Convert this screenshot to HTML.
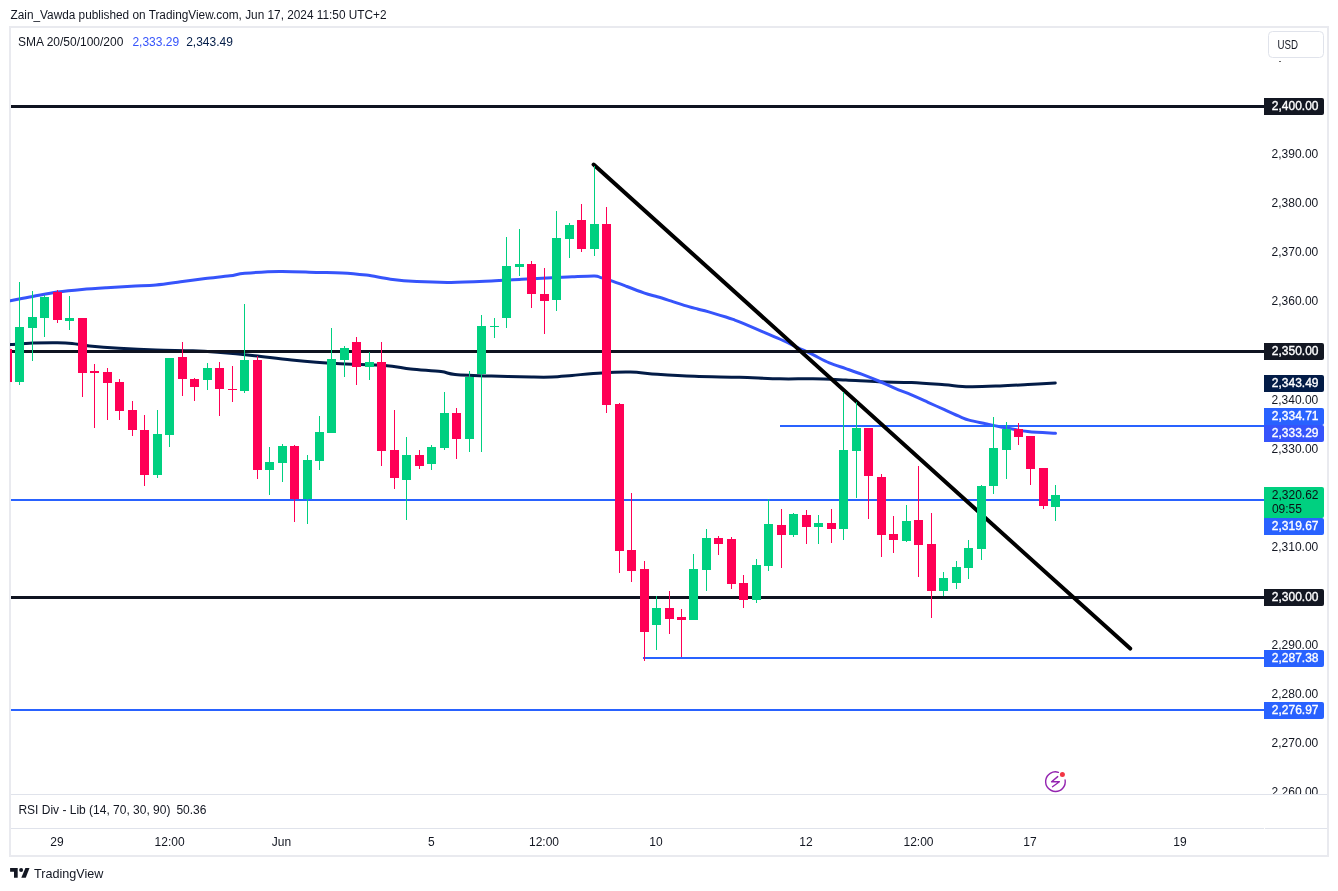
<!DOCTYPE html>
<html><head><meta charset="utf-8"><title>XAUUSD chart</title>
<style>
html,body{margin:0;padding:0;background:#fff;}
body{width:1338px;height:891px;overflow:hidden;position:relative;}
svg{position:absolute;left:0;top:0;display:block;will-change:transform;}
text{font-family:"Liberation Sans",Arial,sans-serif;font-size:12px;fill:#131722;}
.lbl{fill:#fff;}
</style></head><body>
<svg width="1338" height="891" viewBox="0 0 1338 891">
<defs>
<clipPath id="main"><rect x="10" y="28" width="1254" height="766"/></clipPath>
<clipPath id="axis"><rect x="1264" y="28" width="63" height="766"/></clipPath>
</defs>
<rect x="0" y="0" width="1338" height="891" fill="#fff"/>
<text x="10.5" y="19" textLength="376" lengthAdjust="spacingAndGlyphs">Zain_Vawda published on TradingView.com, Jun 17, 2024 11:50 UTC+2</text>
<rect x="10" y="27" width="1318" height="829" fill="none" stroke="#e9eaef" stroke-width="2"/>
<rect x="11" y="794" width="1316" height="1" fill="#e0e3eb"/>
<rect x="11" y="828" width="1253" height="1" fill="#e0e3eb"/>
<rect x="1265" y="828" width="62" height="1" fill="#e0e3eb"/>
<g clip-path="url(#main)">
<path d="M4.0,345.0 C5.1,344.9 5.7,344.9 10.5,344.6 C15.3,344.3 24.9,343.4 32.7,343.1 C40.5,342.8 50.7,342.6 57.3,342.7 C63.9,342.8 66.8,342.9 72.1,343.4 C77.4,343.9 81.6,345.1 89.4,345.9 C97.2,346.7 107.9,347.6 119.0,348.3 C130.1,349.0 143.7,349.7 156.0,350.1 C168.3,350.5 182.7,350.4 193.0,350.8 C203.3,351.2 207.3,351.5 217.6,352.3 C227.9,353.1 242.3,354.4 254.6,355.7 C266.9,357.0 278.0,358.6 291.6,359.9 C305.2,361.2 320.6,362.6 336.1,363.5 C351.6,364.4 372.1,364.6 384.5,365.5 C396.9,366.4 401.3,368.0 410.7,369.0 C420.1,370.0 433.6,370.7 441.0,371.6 C448.4,372.5 446.7,373.7 455.1,374.4 C463.5,375.1 478.6,375.6 491.4,376.0 C504.2,376.4 521.7,376.8 531.8,377.0 C541.9,377.2 545.3,377.3 552.0,377.0 C558.7,376.7 563.8,376.1 572.1,375.4 C580.4,374.7 592.3,373.4 602.0,372.9 C611.7,372.3 621.2,371.9 630.4,372.1 C639.6,372.3 646.6,373.6 657.3,374.3 C668.0,375.0 680.9,375.8 694.6,376.3 C708.3,376.8 725.3,376.9 739.5,377.3 C753.7,377.7 767.8,378.6 780.0,378.8 C792.2,379.1 801.9,378.6 812.9,378.8 C823.9,379.0 834.8,379.6 845.8,380.1 C856.8,380.6 867.8,381.4 878.7,381.8 C889.7,382.2 900.5,382.1 911.5,382.6 C922.5,383.1 934.8,384.1 944.4,384.8 C954.0,385.5 959.8,386.5 969.1,386.7 C978.4,386.9 990.2,386.3 1000.0,385.9 C1009.8,385.5 1018.6,385.0 1027.8,384.5 C1037.0,384.0 1050.7,383.2 1055.3,383.0" fill="none" stroke="#031c47" stroke-width="3" stroke-linejoin="round" stroke-linecap="round"/>
<path d="M4.0,302.0 C5.1,301.8 5.7,301.6 10.5,300.7 C15.3,299.8 24.9,297.9 32.7,296.5 C40.5,295.1 49.1,293.3 57.3,292.1 C65.5,290.9 73.8,290.1 82.0,289.4 C90.2,288.7 98.5,288.2 106.7,287.7 C114.9,287.2 123.1,286.7 131.3,286.2 C139.5,285.7 147.8,285.6 156.0,284.9 C164.2,284.1 172.4,282.8 180.6,281.7 C188.8,280.6 197.1,279.5 205.3,278.5 C213.5,277.5 223.4,276.7 230.0,275.8 C236.6,274.9 236.6,274.0 244.8,273.3 C253.0,272.6 267.4,271.5 279.3,271.4 C291.2,271.2 305.8,272.1 316.3,272.4 C326.8,272.6 333.8,272.4 342.1,272.9 C350.4,273.3 358.2,274.1 366.3,275.1 C374.4,276.2 382.1,278.1 390.5,279.2 C398.9,280.3 406.7,281.1 416.8,281.6 C426.9,282.1 438.7,282.5 451.1,282.4 C463.5,282.3 479.6,281.5 491.4,281.0 C503.2,280.5 511.6,279.7 521.7,279.2 C531.8,278.7 543.6,278.2 552.0,277.8 C560.4,277.4 565.0,277.0 572.1,276.7 C579.2,276.4 589.7,275.8 594.5,275.9 C599.3,276.0 597.8,276.7 600.8,277.6 C603.8,278.5 608.2,279.7 612.4,281.1 C616.6,282.5 620.7,284.2 625.9,286.1 C631.1,288.1 638.6,291.0 643.8,292.8 C649.0,294.6 652.8,295.5 657.3,296.8 C661.8,298.1 666.2,299.5 670.7,300.9 C675.2,302.3 679.7,304.0 684.2,305.4 C688.7,306.8 693.7,308.0 697.6,309.0 C701.5,310.0 703.2,310.3 707.9,311.6 C712.6,312.9 721.4,315.6 725.9,317.0 C730.4,318.4 731.8,319.0 734.8,320.1 C737.8,321.2 739.3,321.8 743.8,323.7 C748.3,325.6 755.7,328.8 761.7,331.3 C767.7,333.9 773.7,336.3 779.7,339.0 C785.7,341.7 792.1,344.9 797.6,347.5 C803.1,350.1 807.6,352.1 812.9,354.7 C818.2,357.3 823.8,360.6 829.3,362.9 C834.8,365.2 840.3,366.7 845.8,368.6 C851.3,370.5 856.7,372.3 862.2,374.4 C867.7,376.5 873.2,378.7 878.7,381.0 C884.2,383.3 889.6,386.1 895.1,388.4 C900.6,390.7 906.0,392.6 911.5,394.9 C917.0,397.2 922.5,399.8 928.0,402.3 C933.5,404.8 938.9,407.2 944.4,409.7 C949.9,412.2 956.8,415.4 960.9,417.1 C965.0,418.8 965.0,419.0 969.1,420.1 C973.2,421.2 980.4,422.6 985.5,423.7 C990.6,424.8 993.0,425.4 1000.0,426.7 C1007.0,428.0 1018.5,430.5 1027.8,431.6 C1037.0,432.7 1050.9,433.0 1055.5,433.3" fill="none" stroke="#3654fb" stroke-width="3" stroke-linejoin="round" stroke-linecap="round"/>
<rect x="11" y="105" width="1253" height="3" fill="#0f1320"/>
<rect x="11" y="350" width="1253" height="3" fill="#0f1320"/>
<rect x="11" y="596" width="1253" height="3" fill="#0f1320"/>
<rect x="780" y="425" width="484" height="2" fill="#2962ff"/>
<rect x="11" y="499" width="1253" height="2" fill="#2962ff"/>
<rect x="643" y="657" width="621" height="2" fill="#2962ff"/>
<rect x="11" y="709" width="1253" height="2" fill="#2962ff"/>
<line x1="593.6" y1="164.5" x2="1130.2" y2="648.6" stroke="#000" stroke-width="4" stroke-linecap="round"/>
<g shape-rendering="crispEdges">
<rect x="7" y="345" width="1" height="40" fill="#ff0055"/><rect x="3" y="349" width="9" height="33" fill="#ff0055"/>
<rect x="19" y="282" width="1" height="103" fill="#00d080"/><rect x="15" y="327" width="9" height="55" fill="#00d080"/>
<rect x="32" y="291" width="1" height="70" fill="#00d080"/><rect x="28" y="317" width="9" height="11" fill="#00d080"/>
<rect x="44" y="295" width="1" height="42" fill="#00d080"/><rect x="40" y="297" width="9" height="21" fill="#00d080"/>
<rect x="57" y="290" width="1" height="33" fill="#ff0055"/><rect x="53" y="292" width="9" height="28" fill="#ff0055"/>
<rect x="69" y="296" width="1" height="34" fill="#00d080"/><rect x="65" y="318" width="9" height="3" fill="#00d080"/>
<rect x="82" y="318" width="1" height="79" fill="#ff0055"/><rect x="78" y="318" width="9" height="55" fill="#ff0055"/>
<rect x="94" y="364" width="1" height="64" fill="#ff0055"/><rect x="90" y="371" width="9" height="2" fill="#ff0055"/>
<rect x="107" y="368" width="1" height="52" fill="#ff0055"/><rect x="103" y="372" width="9" height="11" fill="#ff0055"/>
<rect x="119" y="379" width="1" height="41" fill="#ff0055"/><rect x="115" y="382" width="9" height="29" fill="#ff0055"/>
<rect x="132" y="401" width="1" height="35" fill="#ff0055"/><rect x="128" y="410" width="9" height="20" fill="#ff0055"/>
<rect x="144" y="415" width="1" height="71" fill="#ff0055"/><rect x="140" y="430" width="9" height="45" fill="#ff0055"/>
<rect x="157" y="410" width="1" height="68" fill="#00d080"/><rect x="153" y="434" width="9" height="41" fill="#00d080"/>
<rect x="169" y="358" width="1" height="89" fill="#00d080"/><rect x="165" y="358" width="9" height="77" fill="#00d080"/>
<rect x="182" y="342" width="1" height="54" fill="#ff0055"/><rect x="178" y="357" width="9" height="22" fill="#ff0055"/>
<rect x="194" y="378" width="1" height="23" fill="#ff0055"/><rect x="190" y="379" width="9" height="8" fill="#ff0055"/>
<rect x="207" y="363" width="1" height="27" fill="#00d080"/><rect x="203" y="368" width="9" height="12" fill="#00d080"/>
<rect x="219" y="362" width="1" height="54" fill="#ff0055"/><rect x="215" y="368" width="9" height="21" fill="#ff0055"/>
<rect x="232" y="366" width="1" height="36" fill="#ff0055"/><rect x="228" y="389" width="9" height="1" fill="#ff0055"/>
<rect x="244" y="304" width="1" height="89" fill="#00d080"/><rect x="240" y="360" width="9" height="31" fill="#00d080"/>
<rect x="257" y="356" width="1" height="123" fill="#ff0055"/><rect x="253" y="360" width="9" height="110" fill="#ff0055"/>
<rect x="269" y="447" width="1" height="48" fill="#00d080"/><rect x="265" y="462" width="9" height="8" fill="#00d080"/>
<rect x="282" y="444" width="1" height="38" fill="#00d080"/><rect x="278" y="446" width="9" height="17" fill="#00d080"/>
<rect x="294" y="445" width="1" height="77" fill="#ff0055"/><rect x="290" y="446" width="9" height="53" fill="#ff0055"/>
<rect x="307" y="455" width="1" height="69" fill="#00d080"/><rect x="303" y="460" width="9" height="39" fill="#00d080"/>
<rect x="319" y="416" width="1" height="54" fill="#00d080"/><rect x="315" y="432" width="9" height="29" fill="#00d080"/>
<rect x="331" y="328" width="1" height="105" fill="#00d080"/><rect x="327" y="359" width="9" height="74" fill="#00d080"/>
<rect x="344" y="346" width="1" height="31" fill="#00d080"/><rect x="340" y="348" width="9" height="12" fill="#00d080"/>
<rect x="356" y="337" width="1" height="48" fill="#ff0055"/><rect x="352" y="342" width="9" height="25" fill="#ff0055"/>
<rect x="369" y="352" width="1" height="28" fill="#00d080"/><rect x="365" y="362" width="9" height="5" fill="#00d080"/>
<rect x="381" y="342" width="1" height="124" fill="#ff0055"/><rect x="377" y="362" width="9" height="89" fill="#ff0055"/>
<rect x="394" y="410" width="1" height="79" fill="#ff0055"/><rect x="390" y="450" width="9" height="28" fill="#ff0055"/>
<rect x="406" y="437" width="1" height="83" fill="#00d080"/><rect x="402" y="455" width="9" height="25" fill="#00d080"/>
<rect x="419" y="450" width="1" height="19" fill="#ff0055"/><rect x="415" y="455" width="9" height="11" fill="#ff0055"/>
<rect x="431" y="445" width="1" height="25" fill="#00d080"/><rect x="427" y="447" width="9" height="17" fill="#00d080"/>
<rect x="444" y="392" width="1" height="58" fill="#00d080"/><rect x="440" y="413" width="9" height="35" fill="#00d080"/>
<rect x="456" y="408" width="1" height="51" fill="#ff0055"/><rect x="452" y="413" width="9" height="26" fill="#ff0055"/>
<rect x="469" y="371" width="1" height="81" fill="#00d080"/><rect x="465" y="377" width="9" height="62" fill="#00d080"/>
<rect x="481" y="315" width="1" height="137" fill="#00d080"/><rect x="477" y="326" width="9" height="48" fill="#00d080"/>
<rect x="494" y="318" width="1" height="20" fill="#00d080"/><rect x="490" y="326" width="9" height="1" fill="#00d080"/>
<rect x="506" y="237" width="1" height="91" fill="#00d080"/><rect x="502" y="266" width="9" height="52" fill="#00d080"/>
<rect x="519" y="229" width="1" height="47" fill="#00d080"/><rect x="515" y="264" width="9" height="3" fill="#00d080"/>
<rect x="531" y="261" width="1" height="47" fill="#ff0055"/><rect x="527" y="264" width="9" height="30" fill="#ff0055"/>
<rect x="544" y="268" width="1" height="66" fill="#ff0055"/><rect x="540" y="294" width="9" height="7" fill="#ff0055"/>
<rect x="556" y="211" width="1" height="100" fill="#00d080"/><rect x="552" y="238" width="9" height="62" fill="#00d080"/>
<rect x="569" y="223" width="1" height="35" fill="#00d080"/><rect x="565" y="225" width="9" height="14" fill="#00d080"/>
<rect x="581" y="204" width="1" height="48" fill="#ff0055"/><rect x="577" y="220" width="9" height="29" fill="#ff0055"/>
<rect x="594" y="166" width="1" height="90" fill="#00d080"/><rect x="590" y="224" width="9" height="25" fill="#00d080"/>
<rect x="606" y="207" width="1" height="206" fill="#ff0055"/><rect x="602" y="224" width="9" height="181" fill="#ff0055"/>
<rect x="619" y="403" width="1" height="170" fill="#ff0055"/><rect x="615" y="404" width="9" height="147" fill="#ff0055"/>
<rect x="631" y="493" width="1" height="89" fill="#ff0055"/><rect x="627" y="550" width="9" height="21" fill="#ff0055"/>
<rect x="644" y="561" width="1" height="100" fill="#ff0055"/><rect x="640" y="569" width="9" height="63" fill="#ff0055"/>
<rect x="656" y="596" width="1" height="54" fill="#00d080"/><rect x="652" y="608" width="9" height="17" fill="#00d080"/>
<rect x="669" y="591" width="1" height="43" fill="#ff0055"/><rect x="665" y="608" width="9" height="11" fill="#ff0055"/>
<rect x="681" y="609" width="1" height="48" fill="#ff0055"/><rect x="677" y="617" width="9" height="3" fill="#ff0055"/>
<rect x="693" y="554" width="1" height="66" fill="#00d080"/><rect x="689" y="569" width="9" height="51" fill="#00d080"/>
<rect x="706" y="529" width="1" height="62" fill="#00d080"/><rect x="702" y="538" width="9" height="32" fill="#00d080"/>
<rect x="718" y="536" width="1" height="19" fill="#ff0055"/><rect x="714" y="538" width="9" height="6" fill="#ff0055"/>
<rect x="731" y="537" width="1" height="52" fill="#ff0055"/><rect x="727" y="539" width="9" height="45" fill="#ff0055"/>
<rect x="743" y="575" width="1" height="33" fill="#ff0055"/><rect x="739" y="583" width="9" height="17" fill="#ff0055"/>
<rect x="756" y="559" width="1" height="44" fill="#00d080"/><rect x="752" y="565" width="9" height="35" fill="#00d080"/>
<rect x="768" y="499" width="1" height="72" fill="#00d080"/><rect x="764" y="524" width="9" height="42" fill="#00d080"/>
<rect x="781" y="509" width="1" height="59" fill="#ff0055"/><rect x="777" y="525" width="9" height="10" fill="#ff0055"/>
<rect x="793" y="513" width="1" height="24" fill="#00d080"/><rect x="789" y="514" width="9" height="21" fill="#00d080"/>
<rect x="806" y="510" width="1" height="34" fill="#ff0055"/><rect x="802" y="515" width="9" height="12" fill="#ff0055"/>
<rect x="818" y="515" width="1" height="29" fill="#00d080"/><rect x="814" y="523" width="9" height="4" fill="#00d080"/>
<rect x="831" y="509" width="1" height="34" fill="#ff0055"/><rect x="827" y="523" width="9" height="6" fill="#ff0055"/>
<rect x="843" y="392" width="1" height="148" fill="#00d080"/><rect x="839" y="450" width="9" height="79" fill="#00d080"/>
<rect x="856" y="402" width="1" height="96" fill="#00d080"/><rect x="852" y="428" width="9" height="23" fill="#00d080"/>
<rect x="868" y="428" width="1" height="91" fill="#ff0055"/><rect x="864" y="428" width="9" height="48" fill="#ff0055"/>
<rect x="881" y="474" width="1" height="83" fill="#ff0055"/><rect x="877" y="477" width="9" height="58" fill="#ff0055"/>
<rect x="893" y="516" width="1" height="37" fill="#ff0055"/><rect x="889" y="534" width="9" height="6" fill="#ff0055"/>
<rect x="906" y="505" width="1" height="37" fill="#00d080"/><rect x="902" y="521" width="9" height="20" fill="#00d080"/>
<rect x="918" y="466" width="1" height="111" fill="#ff0055"/><rect x="914" y="520" width="9" height="25" fill="#ff0055"/>
<rect x="931" y="513" width="1" height="105" fill="#ff0055"/><rect x="927" y="544" width="9" height="47" fill="#ff0055"/>
<rect x="943" y="572" width="1" height="24" fill="#00d080"/><rect x="939" y="578" width="9" height="13" fill="#00d080"/>
<rect x="956" y="561" width="1" height="28" fill="#00d080"/><rect x="952" y="567" width="9" height="16" fill="#00d080"/>
<rect x="968" y="540" width="1" height="39" fill="#00d080"/><rect x="964" y="548" width="9" height="20" fill="#00d080"/>
<rect x="981" y="485" width="1" height="75" fill="#00d080"/><rect x="977" y="486" width="9" height="63" fill="#00d080"/>
<rect x="993" y="417" width="1" height="77" fill="#00d080"/><rect x="989" y="448" width="9" height="38" fill="#00d080"/>
<rect x="1006" y="422" width="1" height="57" fill="#00d080"/><rect x="1002" y="429" width="9" height="21" fill="#00d080"/>
<rect x="1018" y="423" width="1" height="22" fill="#ff0055"/><rect x="1014" y="429" width="9" height="8" fill="#ff0055"/>
<rect x="1030" y="436" width="1" height="49" fill="#ff0055"/><rect x="1026" y="436" width="9" height="33" fill="#ff0055"/>
<rect x="1043" y="468" width="1" height="41" fill="#ff0055"/><rect x="1039" y="468" width="9" height="38" fill="#ff0055"/>
<rect x="1055" y="485" width="1" height="36" fill="#00d080"/><rect x="1051" y="495" width="9" height="12" fill="#00d080"/>
</g>
<g fill="none" stroke="#9424b0" stroke-width="1.4" stroke-linecap="round" stroke-linejoin="round">
<path d="M1058.4,772.3 A9.8,9.8 0 1 0 1065.1,780.0"/>
<path d="M1057.7,776.6 L1051.6,781.8 L1059.4,781.8 L1052.5,786.7"/>
</g>
<circle cx="1062.4" cy="774.4" r="2.5" fill="#f23645"/>
</g>
<text x="18" y="46" textLength="105.3" lengthAdjust="spacingAndGlyphs">SMA 20/50/100/200</text>
<text x="132.4" y="46" style="fill:#3654fb">2,333.29</text>
<text x="186.2" y="46" style="fill:#031c47">2,343.49</text>
<text x="18.4" y="814.4">RSI Div - Lib (14, 70, 30, 90)</text>
<text x="176.4" y="814.4">50.36</text>
<g clip-path="url(#axis)">
<text x="1318.3" y="158.0" text-anchor="end">2,390.00</text>
<text x="1318.3" y="207.1" text-anchor="end">2,380.00</text>
<text x="1318.3" y="256.2" text-anchor="end">2,370.00</text>
<text x="1318.3" y="305.3" text-anchor="end">2,360.00</text>
<text x="1318.3" y="403.5" text-anchor="end">2,340.00</text>
<text x="1318.3" y="452.6" text-anchor="end">2,330.00</text>
<text x="1318.3" y="550.8" text-anchor="end">2,310.00</text>
<text x="1318.3" y="649.0" text-anchor="end">2,290.00</text>
<text x="1318.3" y="698.1" text-anchor="end">2,280.00</text>
<text x="1318.3" y="747.2" text-anchor="end">2,270.00</text>
<text x="1318.3" y="796.3" text-anchor="end">2,260.00</text>
</g>
<rect x="1279" y="61" width="2" height="1" fill="#666"/>
<rect x="1268.5" y="31.5" width="55" height="26" rx="4" fill="#fff" stroke="#e0e3eb" stroke-width="1"/>
<text x="1277.4" y="48.8" textLength="20.5" lengthAdjust="spacingAndGlyphs">USD</text>
<path d="M1264,98 h58 a2,2 0 0 1 2,2 v13 a2,2 0 0 1 -2,2 h-58 z" fill="#131722"/><text x="1318.5" y="109.8" text-anchor="end" style="fill:#fff;stroke:#fff;stroke-width:0.35">2,400.00</text>
<path d="M1264,343 h58 a2,2 0 0 1 2,2 v13 a2,2 0 0 1 -2,2 h-58 z" fill="#131722"/><text x="1318.5" y="354.8" text-anchor="end" style="fill:#fff;stroke:#fff;stroke-width:0.35">2,350.00</text>
<path d="M1264,375 h58 a2,2 0 0 1 2,2 v13 a2,2 0 0 1 -2,2 h-58 z" fill="#031c47"/><text x="1318.5" y="386.8" text-anchor="end" style="fill:#fff;stroke:#fff;stroke-width:0.35">2,343.49</text>
<path d="M1264,408 h58 a2,2 0 0 1 2,2 v13 a2,2 0 0 1 -2,2 h-58 z" fill="#2962ff"/><text x="1318.5" y="419.8" text-anchor="end" style="fill:#fff;stroke:#fff;stroke-width:0.35">2,334.71</text>
<path d="M1264,425 h58 a2,2 0 0 1 2,2 v13 a2,2 0 0 1 -2,2 h-58 z" fill="#3654fb"/><text x="1318.5" y="436.8" text-anchor="end" style="fill:#fff;stroke:#fff;stroke-width:0.35">2,333.29</text>
<path d="M1264,487 h58 a2,2 0 0 1 2,2 v27 a2,2 0 0 1 -2,2 h-58 z" fill="#00d080"/><text x="1318.5" y="498.8" text-anchor="end" style="fill:#0b0f14;stroke:#0b0f14;stroke-width:0">2,320.62</text><text x="1271.9" y="512.5" style="fill:#0b0f14;stroke:#0b0f14;stroke-width:0">09:55</text>
<path d="M1264,518 h58 a2,2 0 0 1 2,2 v13 a2,2 0 0 1 -2,2 h-58 z" fill="#2962ff"/><text x="1318.5" y="529.8" text-anchor="end" style="fill:#fff;stroke:#fff;stroke-width:0.35">2,319.67</text>
<path d="M1264,589 h58 a2,2 0 0 1 2,2 v13 a2,2 0 0 1 -2,2 h-58 z" fill="#131722"/><text x="1318.5" y="600.8" text-anchor="end" style="fill:#fff;stroke:#fff;stroke-width:0.35">2,300.00</text>
<path d="M1264,650 h58 a2,2 0 0 1 2,2 v13 a2,2 0 0 1 -2,2 h-58 z" fill="#2962ff"/><text x="1318.5" y="661.8" text-anchor="end" style="fill:#fff;stroke:#fff;stroke-width:0.35">2,287.38</text>
<path d="M1264,702 h58 a2,2 0 0 1 2,2 v13 a2,2 0 0 1 -2,2 h-58 z" fill="#2962ff"/><text x="1318.5" y="713.8" text-anchor="end" style="fill:#fff;stroke:#fff;stroke-width:0.35">2,276.97</text>
<text x="57" y="846" text-anchor="middle">29</text>
<text x="169.6" y="846" text-anchor="middle">12:00</text>
<text x="281.5" y="846" text-anchor="middle">Jun</text>
<text x="431.4" y="846" text-anchor="middle">5</text>
<text x="544" y="846" text-anchor="middle">12:00</text>
<text x="656" y="846" text-anchor="middle">10</text>
<text x="806" y="846" text-anchor="middle">12</text>
<text x="918.5" y="846" text-anchor="middle">12:00</text>
<text x="1030" y="846" text-anchor="middle">17</text>
<text x="1180" y="846" text-anchor="middle">19</text>
<g fill="#131722">
<path d="M10.1,868 H17.7 V877.7 H14 V871.8 H10.1 Z"/>
<circle cx="21.1" cy="870.1" r="2"/>
<path d="M25.4,868 H29.5 L25.75,877.7 H21.3 Z"/>
</g>
<text x="34" y="877.7" style="font-size:13px" textLength="69.3" lengthAdjust="spacingAndGlyphs">TradingView</text>
</svg>
</body></html>
